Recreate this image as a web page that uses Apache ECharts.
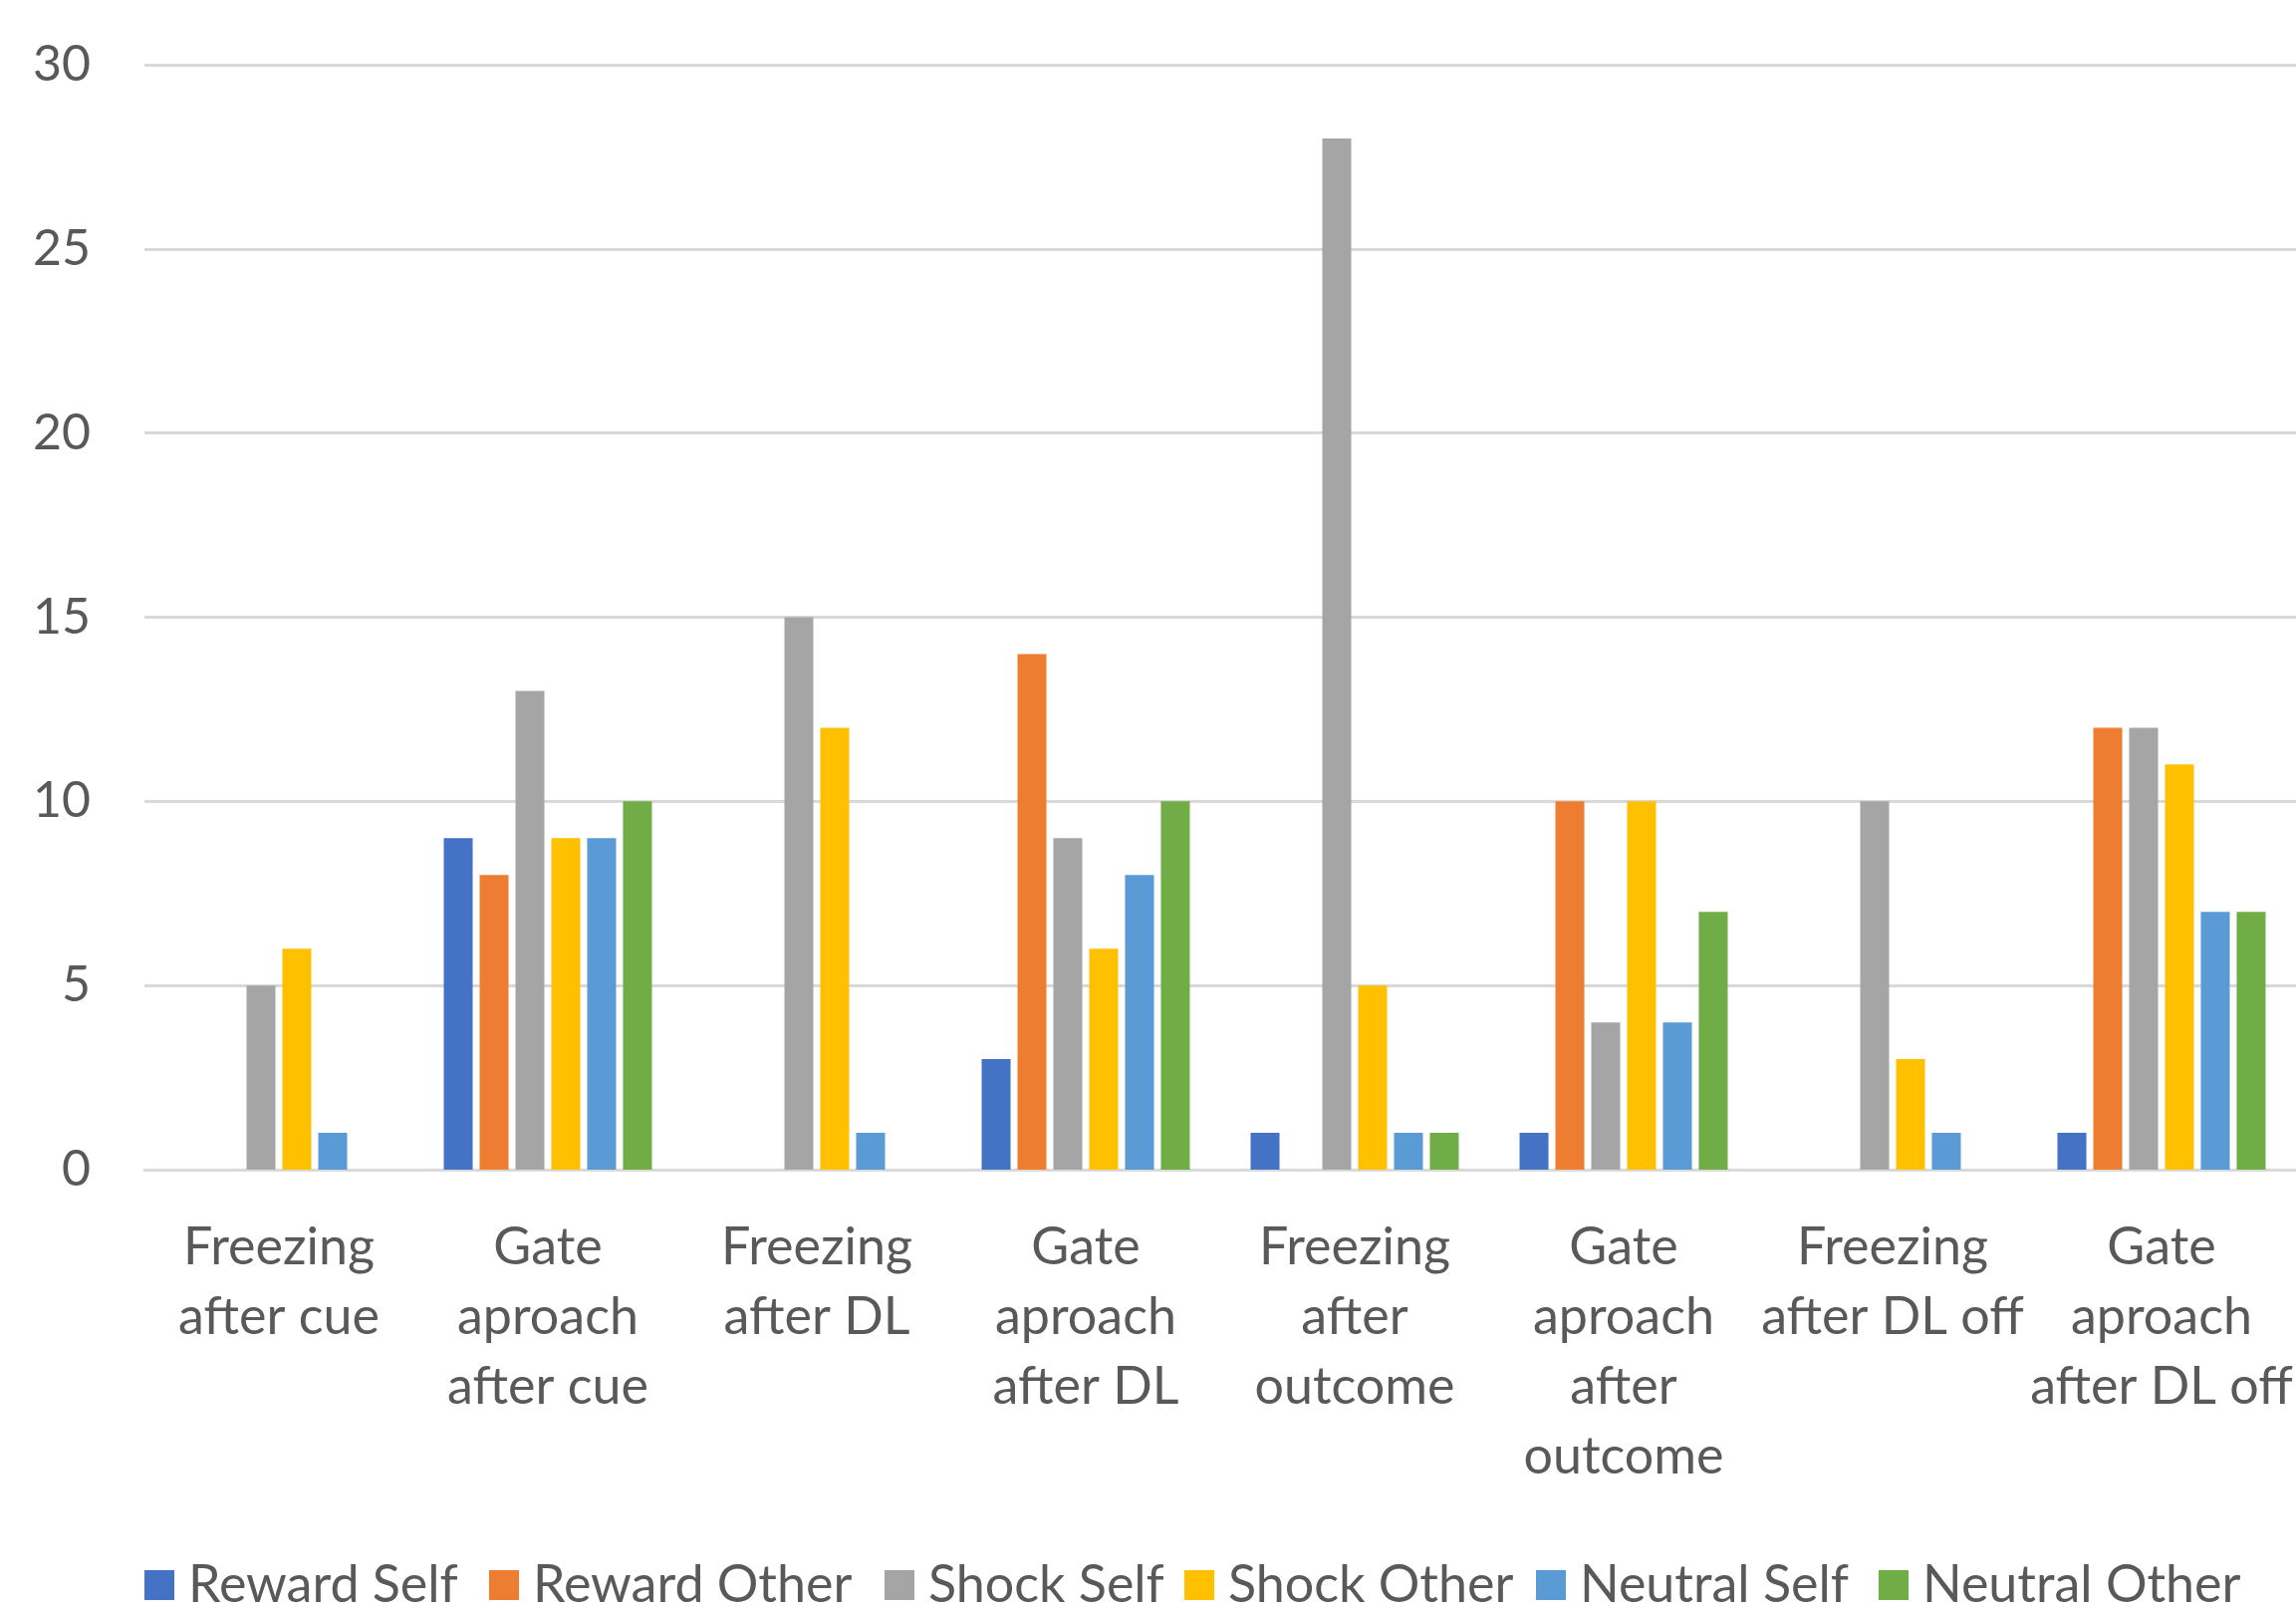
<!DOCTYPE html>
<html>
<head>
<meta charset="utf-8">
<script src="https://cdn.jsdelivr.net/npm/echarts@6/dist/echarts.min.js"></script>
<style>
html,body{margin:0;padding:0;background:#ffffff;}
#chart{width:2305px;height:1618px;}
</style>
</head>
<body>
<div id="chart"></div>
<script>
const categories = [
  "Freezing\nafter cue",
  "Gate\naproach\nafter cue",
  "Freezing\nafter DL",
  "Gate\naproach\nafter DL",
  "Freezing\nafter\noutcome",
  "Gate\naproach\nafter\noutcome",
  "Freezing\nafter DL off",
  "Gate\naproach\nafter DL off"
];
const seriesNames = ["Reward Self", "Reward Other", "Shock Self", "Shock Other", "Neutral Self", "Neutral Other"];
const rewardSelf   = [0, 9, 0, 3, 1, 1, 0, 1];
const rewardOther  = [0, 8, 0, 14, 0, 10, 0, 12];
const shockSelf    = [5, 13, 15, 9, 28, 4, 10, 12];
const shockOther   = [6, 9, 12, 6, 5, 10, 3, 11];
const neutralSelf  = [1, 9, 1, 8, 1, 4, 1, 7];
const neutralOther = [0, 10, 0, 10, 1, 7, 0, 7];
const yTicks = [0, 5, 10, 15, 20, 25, 30];

const seriesData = [rewardSelf, rewardOther, shockSelf, shockOther, neutralSelf, neutralOther];
const colors = ["#4472C4", "#ED7D31", "#A5A5A5", "#FFC000", "#5B9BD5", "#70AD47"];
const legendLeft = [145, 491, 888, 1189, 1542, 1886];
const FONT = "Lato";
const TXT = "#595959";

const chart = echarts.init(document.getElementById('chart'), null, {renderer: 'canvas'});
chart.setOption({
  backgroundColor: '#ffffff',
  animation: false,
  color: colors,
  grid: {left: 145, right: 0, top: 65, bottom: 444, containLabel: false},
  legend: seriesNames.map((name, i) => ({
    left: legendLeft[i],
    top: 1565,
    padding: 0,
    itemWidth: 30,
    itemHeight: 30,
    icon: 'rect',
    textStyle: {fontFamily: FONT, fontSize: 52, lineHeight: 40, color: TXT, padding: [0, 0, 0, 9]},
    data: [name]
  })),
  xAxis: {
    type: 'category',
    data: categories,
    axisLine: {show: true, lineStyle: {color: '#D9D9D9', width: 3}},
    axisTick: {show: false},
    axisLabel: {
      interval: 0,
      margin: 43,
      fontFamily: FONT,
      fontSize: 52,
      lineHeight: 70,
      color: TXT,
      align: 'center'
    }
  },
  yAxis: {
    type: 'value',
    min: yTicks[0],
    max: yTicks[yTicks.length - 1],
    interval: 5,
    axisLine: {show: false},
    axisTick: {show: false},
    splitLine: {lineStyle: {color: '#D9D9D9', width: 3}},
    axisLabel: {margin: 54, fontFamily: FONT, fontSize: 50, color: TXT}
  },
  series: seriesNames.map((name, i) => ({
    name: name,
    type: 'bar',
    data: seriesData[i],
    barGap: '24%',
    barCategoryGap: '22.6%',
    itemStyle: {color: colors[i]}
  }))
});
</script>
</body>
</html>
